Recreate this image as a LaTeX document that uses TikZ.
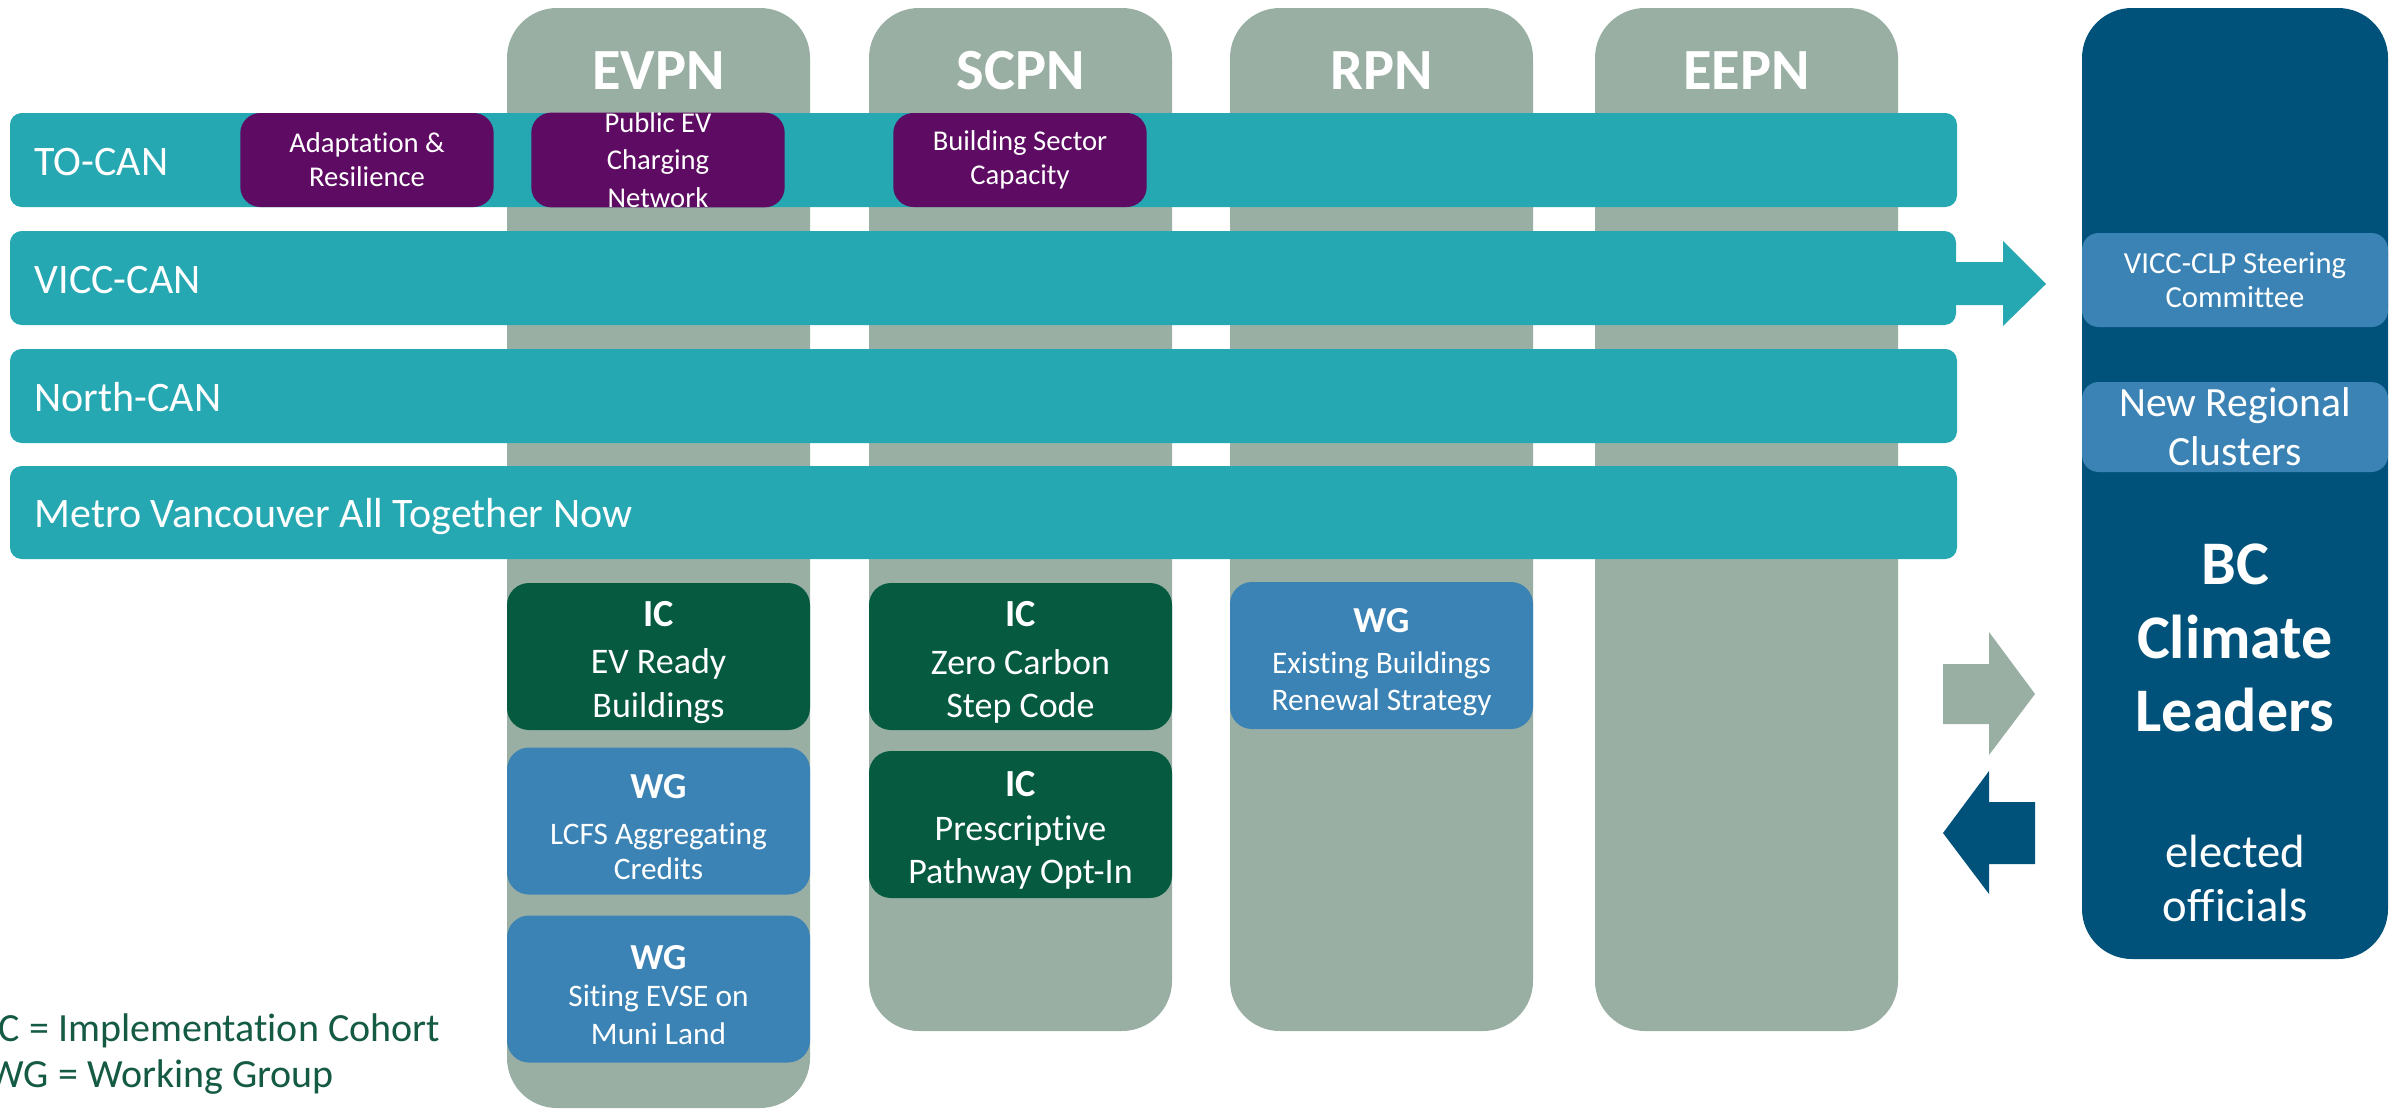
\documentclass[tikz,border=0pt]{standalone}
\usepackage{fontspec}
\setmainfont{Carlito}[Ligatures=NoCommon]
\definecolor{barteal}{HTML}{26A8B3}
\definecolor{colgray}{HTML}{9AAFA4}
\definecolor{icgreen}{HTML}{055A3F}
\definecolor{wgblue}{HTML}{3C83B5}
\definecolor{purp}{HTML}{5E0B63}
\definecolor{navy}{HTML}{01527B}
\definecolor{leggreen}{HTML}{145A44}
\tikzset{
  colbox/.style={fill=colgray, rounded corners=15pt},
  barbox/.style={fill=barteal, rounded corners=3.5pt},
  barlabel/.style={anchor=base west, text=white, inner sep=0, font=\fontsize{12.6}{15}\selectfont},
  hdr/.style={anchor=base, text=white, inner sep=0, font=\bfseries\fontsize{17.5}{20}\selectfont},
  pbox/.style={fill=purp, rounded corners=6pt, text=white, align=center, inner sep=0,
    minimum width=76pt, minimum height=28.2pt, font=\fontsize{8.6}{10.2}\selectfont},
  icbox/.style={fill=icgreen, rounded corners=6.6pt, text=white, align=center, inner sep=0,
    minimum width=90.9pt, minimum height=44.1pt, font=\fontsize{10.8}{13}\selectfont},
  wgbox/.style={fill=wgblue, rounded corners=6.6pt, text=white, align=center, inner sep=0,
    minimum width=90.9pt, minimum height=44.1pt, font=\fontsize{9.4}{11.2}\selectfont},
  boxtext/.style={text=white, align=center, inner sep=0},
  sidebox/.style={fill=wgblue, rounded corners=5pt, text=white, align=center, inner sep=0,
    minimum width=91.8pt},
  legend/.style={anchor=base west, text=leggreen, inner sep=0, font=\fontsize{12}{14}\selectfont},
}
\newcommand{\icword}{{\bfseries\fontsize{11.5}{13}\selectfont IC}}
\newcommand{\wgword}{{\bfseries\fontsize{11}{12.5}\selectfont WG}}
\begin{document}
\begin{tikzpicture}[x=0.3pt,y=-0.3pt]
\useasboundingbox (0,0) rectangle (2397,1111);
% columns
\path[colbox] (507,8) rectangle (810,1108);
\path[colbox] (869,8) rectangle (1172,1031);
\path[colbox] (1230,8) rectangle (1533,1031);
\path[colbox] (1595,8) rectangle (1898,1031);
\node[hdr] (hevpn) at (658.5,89) {EVPN};
\node[hdr] (hscpn) at (1020.5,89) {SCPN};
\node[hdr] (hrpn) at (1381.5,89) {RPN};
\node[hdr] (heepn) at (1746.5,89) {EEPN};
% bars
\path[barbox] (10,113) rectangle (1957,207);
\path[barbox] (10,231) rectangle (1956,325);
\path[barbox] (10,349) rectangle (1957,443);
\path[barbox] (10,466) rectangle (1957,559);
\node[barlabel] (tocan) at (34,175) {TO-CAN};
\node[barlabel] (vicccan) at (34,293) {VICC-CAN};
\node[barlabel] (northcan) at (34,411) {North-CAN};
\node[barlabel] (metro) at (34,527) {Metro Vancouver All Together Now};
% purple boxes
\node[pbox] (adapt) at (367,160) {Adaptation \&\\Resilience};
\node[pbox, font=\fontsize{8.6}{11.2}\selectfont] (pubev) at (658,160) {Public EV\\Charging\\Network};
\node[pbox] (bsc) at (1020,160) {Building Sector\\Capacity};
% lower boxes
\node[icbox] (ic1) at (658.5,656.5) {};
\node[boxtext, font=\fontsize{10.8}{13}\selectfont] (ic1t) at (658.5,662.5) {\icword\\[1.2pt]EV Ready\\Buildings};
\node[wgbox] (wg1) at (658.5,821) {};
\node[boxtext, font=\fontsize{9.4}{10.6}\selectfont] (wg1t) at (658.5,827) {\wgword\\[3.3pt]LCFS Aggregating\\Credits};
\node[wgbox] (wg2) at (658.5,989) {};
\node[boxtext, font=\fontsize{9.4}{11.2}\selectfont] (wg2t) at (658.5,995) {\wgword\\Siting EVSE on\\Muni Land};
\node[icbox] (ic2) at (1020.5,656.5) {};
\node[boxtext, font=\fontsize{10.8}{13}\selectfont] (ic2t) at (1020.5,662.5) {\icword\\[1.2pt]Zero Carbon\\Step Code};
\node[icbox] (ic3) at (1020.5,824.5) {};
\node[boxtext, font=\fontsize{10.8}{13}\selectfont] (ic3t) at (1020.5,830.5) {\icword\\Prescriptive\\Pathway Opt-In};
\node[wgbox] (wg3) at (1381.5,655.5) {};
\node[boxtext, font=\fontsize{9.4}{11.2}\selectfont] (wg3t) at (1381.5,662) {\wgword\\[1pt]Existing Buildings\\Renewal Strategy};
% right panel
\path[fill=navy, rounded corners=15pt] (2082,8) rectangle (2388,959);
\node[sidebox, minimum height=28.2pt, font=\fontsize{9.2}{10.4}\selectfont] (steer) at (2235,280) {VICC-CLP Steering\\Committee};
\node[sidebox, minimum height=27pt, font=\fontsize{12.5}{14.6}\selectfont] (newreg) at (2235,427) {New Regional\\Clusters};
\node[text=white, align=center, inner sep=0, font=\bfseries\fontsize{18.6}{22}\selectfont] (bc) at (2235,638) {BC\\Climate\\Leaders};
\node[text=white, align=center, inner sep=0, font=\fontsize{14}{16.2}\selectfont] (elected) at (2235,878) {elected\\officials};
% block arrows
\fill[barteal] (1956,262) -- (2003,262) -- (2003,241) -- (2046,284) -- (2003,326) -- (2003,305) -- (1956,305) -- cycle;
\fill[colgray] (1943,664) -- (1989,664) -- (1989,632) -- (2035,694) -- (1989,755) -- (1989,724) -- (1943,724) -- cycle;
\fill[navy] (2035,802) -- (1989,802) -- (1989,771) -- (1943,833) -- (1989,894) -- (1989,864) -- (2035,864) -- cycle;
% legend
\node[legend] (legic) at (-12,1041) {IC = Implementation Cohort};
\node[legend] (legwg) at (-12,1087) {WG = Working Group};
\end{tikzpicture}
\end{document}
